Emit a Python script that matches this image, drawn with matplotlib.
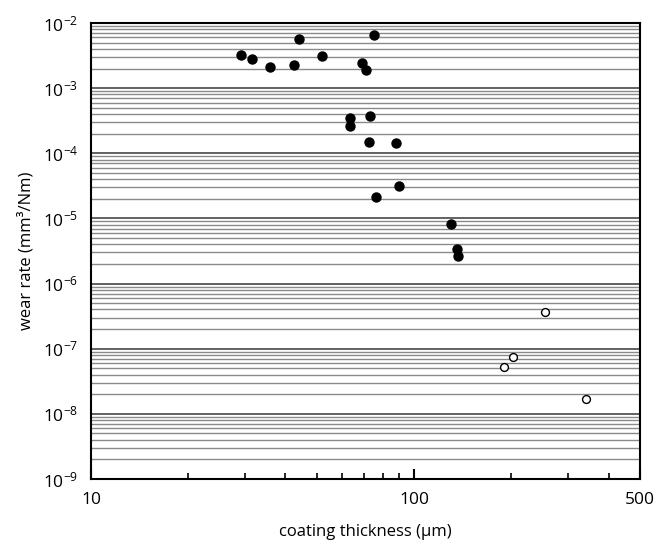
import numpy as np
import matplotlib
matplotlib.use("Agg")
import matplotlib.pyplot as plt
from matplotlib.ticker import FixedLocator, FixedFormatter, NullFormatter, LogFormatterMathtext

plt.rcParams['font.family'] = ['Open Sans', 'DejaVu Sans']
plt.rcParams['mathtext.fontset'] = 'custom'
plt.rcParams['mathtext.rm'] = 'Open Sans'
plt.rcParams['mathtext.default'] = 'regular'

# coating thickness (um) and wear rate (mm^3/Nm)
thick_filled = [29.1, 31.5, 35.8, 42.4, 44.0, 52.0, 75.0, 69.0, 71.0, 63.4,
                63.4, 72.9, 72.7, 88.1, 89.9, 76.4, 130.0, 135.9, 136.8]
wear_filled = [3.23e-3, 2.77e-3, 2.09e-3, 2.29e-3, 5.62e-3, 3.11e-3, 6.61e-3,
               2.46e-3, 1.88e-3, 3.48e-4, 2.60e-4, 3.78e-4, 1.51e-4, 1.42e-4,
               3.11e-5, 2.16e-5, 8.21e-6, 3.43e-6, 2.62e-6]
thick_open = [254.4, 202.5, 190.0, 341.6]
wear_open = [3.66e-7, 7.54e-8, 5.24e-8, 1.71e-8]

x_ticks = [10, 100, 500]
x_ticklabels = ['10', '100', '500']
x_minor = [20, 30, 40, 50, 60, 70, 80, 90, 200, 300, 400]
y_decades = [1e-9, 1e-8, 1e-7, 1e-6, 1e-5, 1e-4, 1e-3, 1e-2]
y_minor = [d * k for d in y_decades[:-1] for k in range(2, 10)]

fig = plt.figure(figsize=(6.59, 5.42), dpi=100)
ax = fig.add_axes([0.138, 0.1162, 0.833, 0.8414])

ax.set_xscale('log')
ax.set_yscale('log')
ax.set_xlim(10, 500)
ax.set_ylim(1e-9, 1e-2)

# horizontal grid on every decade subdivision
ax.yaxis.set_major_locator(FixedLocator(y_decades))
ax.yaxis.set_minor_locator(FixedLocator(y_minor))
ax.yaxis.set_major_formatter(LogFormatterMathtext())
ax.yaxis.set_minor_formatter(NullFormatter())
ax.grid(True, axis='y', which='major', color='#555555', lw=1.3)
ax.grid(True, axis='y', which='minor', color='#8a8a8a', lw=1.0)
ax.tick_params(axis='y', which='both', length=0, labelsize=12.5, pad=9)

ax.xaxis.set_major_locator(FixedLocator(x_ticks))
ax.xaxis.set_major_formatter(FixedFormatter(x_ticklabels))
ax.xaxis.set_minor_locator(FixedLocator(x_minor))
ax.xaxis.set_minor_formatter(NullFormatter())
ax.tick_params(axis='x', which='major', direction='in', length=7, width=1.5, labelsize=12.5, pad=9)
ax.tick_params(axis='x', which='minor', direction='in', length=4, width=1.2)

for s in ax.spines.values():
    s.set_linewidth(1.5)
    s.set_color('black')
ax.set_axisbelow(True)

ax.scatter(thick_filled, wear_filled, s=42, c='black', zorder=3, clip_on=False)
ax.scatter(thick_open, wear_open, s=32, facecolors='white', edgecolors='black',
           linewidths=1.0, zorder=3, clip_on=False)

ax.set_xlabel('coating thickness (\u00b5m)', fontsize=12, labelpad=12)
ax.set_ylabel('wear rate (mm\u00b3/Nm)', fontsize=12, labelpad=6)

fig.savefig('out.png', dpi=100)
